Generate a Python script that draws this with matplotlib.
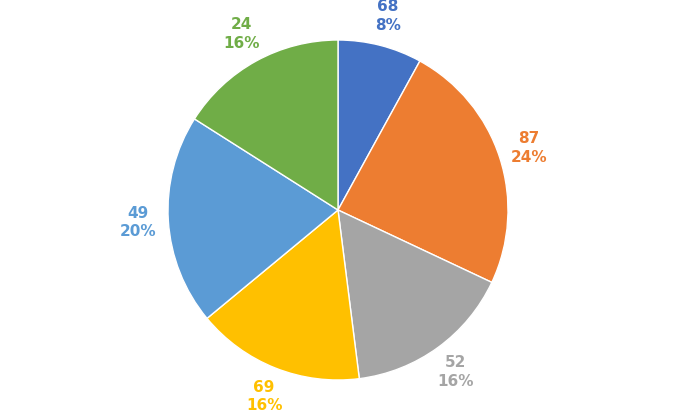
import numpy as np
import matplotlib.pyplot as plt

values = [68, 87, 52, 69, 49, 24]
shares = [8, 24, 16, 16, 20, 16]
colors = ['#4472C4', '#ED7D31', '#A5A5A5', '#FFC000', '#5B9BD5', '#70AD47']

fig = plt.figure(figsize=(6.75, 4.2), dpi=100)
ax = fig.add_axes([168/675, 40/420, 340/675, 340/420])
wedges, _ = ax.pie(shares, colors=colors, startangle=90, counterclock=False,
                   radius=1, wedgeprops=dict(edgecolor='white', linewidth=1))

for w, v, s, c in zip(wedges, values, shares, colors):
    ang = np.deg2rad((w.theta1 + w.theta2) / 2)
    r = 1.18
    ax.text(r*np.cos(ang), r*np.sin(ang), f'{v}\n{s}%', color=c,
            ha='center', va='center', fontsize=11, fontweight='bold',
            linespacing=1.3)

ax.set_xlim(-1, 1)
ax.set_ylim(-1, 1)
ax.set_aspect('equal')
fig.savefig('out.png')
